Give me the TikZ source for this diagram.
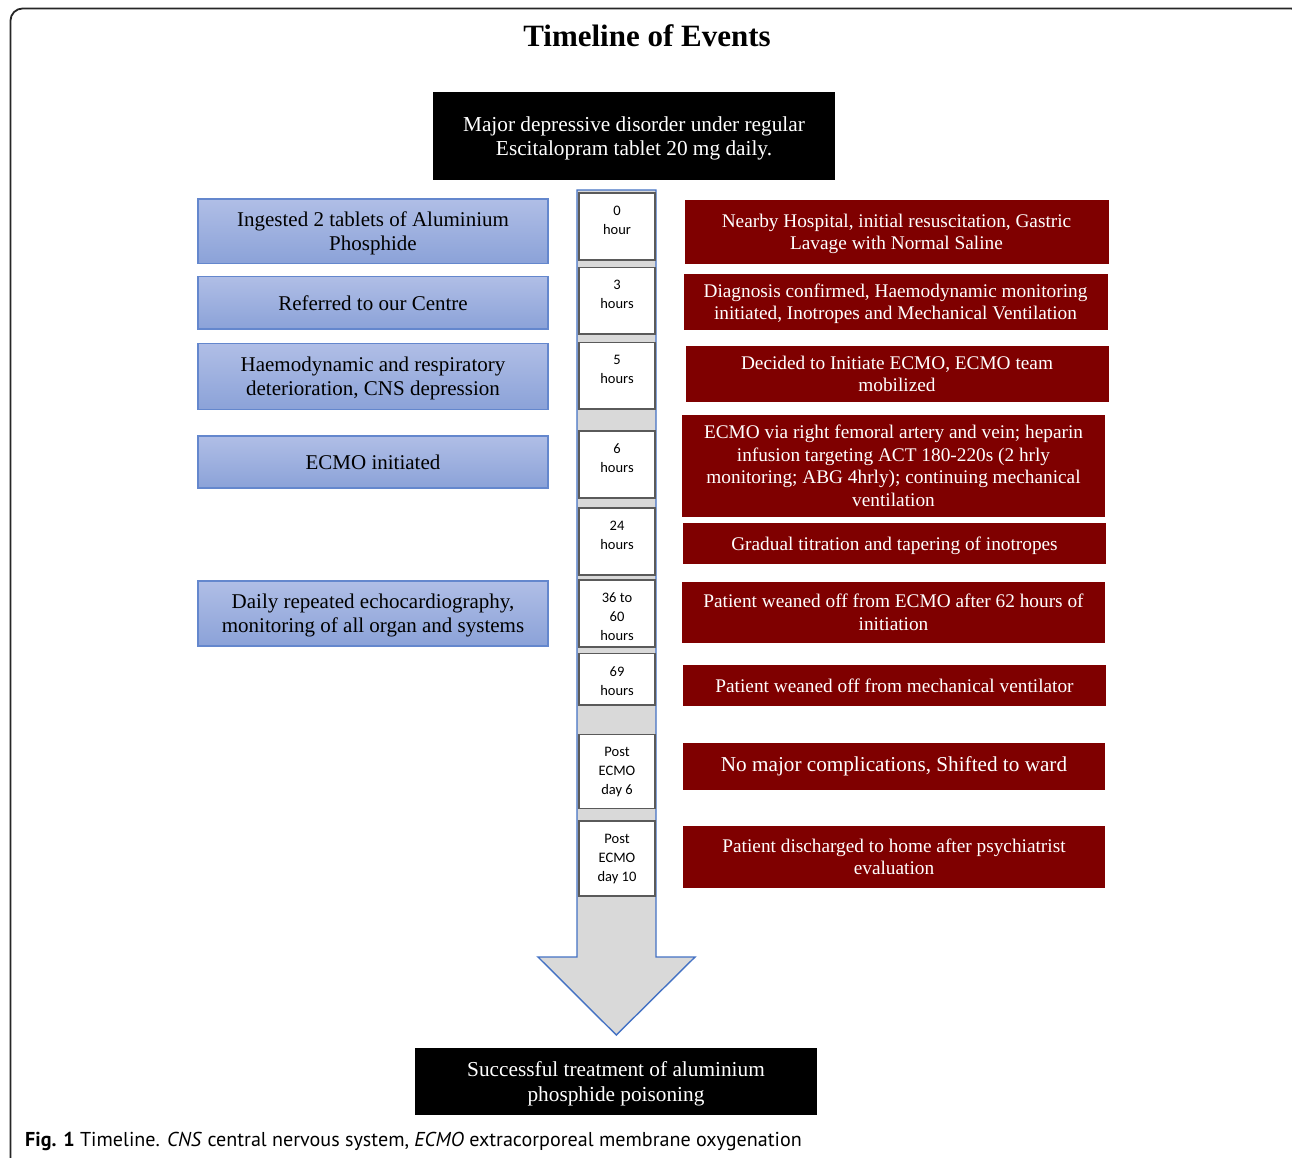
\documentclass[tikz,border=0pt]{standalone}
\usepackage{fontspec}
\setmainfont{Liberation Serif}
\newfontfamily\hourfont{Carlito}
\newfontfamily\capfont{PT Sans}
\definecolor{boxred}{RGB}{127,0,0}
\definecolor{bluetop}{RGB}{176,190,230}
\definecolor{bluebot}{RGB}{139,162,216}
\definecolor{blueedge}{RGB}{100,135,205}
\definecolor{arrowfill}{RGB}{217,217,217}
\definecolor{arrowedge}{RGB}{68,114,196}
\definecolor{houredge}{RGB}{90,90,90}
\begin{document}
\begin{tikzpicture}[x=1pt,y=-1pt,
  bluebox/.style={draw=blueedge, line width=1.2pt, top color=bluetop, bottom color=bluebot,
    inner sep=0pt, minimum width=350pt, align=center, text=black, text depth=0pt,
    font=\fontsize{21}{24}\selectfont},
  redbox/.style={fill=boxred, inner sep=0pt, align=center, text=white, text depth=0pt,
    font=\fontsize{19.3}{22.5}\selectfont},
  blackbox/.style={fill=black, inner sep=0pt, align=center, text=white, text depth=0pt,
    font=\fontsize{21.3}{24.5}\selectfont},
  hourbox/.style={draw=houredge, fill=white, line width=1.5pt, inner sep=0pt,
    minimum width=76pt},
  hourtext/.style={inner sep=0pt, anchor=north, yshift=-13.5pt, align=center,
    font=\hourfont\fontsize{14.5}{19}\selectfont}
]
\clip (0,0) rectangle (1292,1157);
\fill[white] (0,0) rectangle (1292,1157);
% outer frame
\draw[line width=1.8pt, black!85, rounded corners=12pt] (10.5,8.5) rectangle (1303,1170);

% title
\node[font=\bfseries\fontsize{31}{35}\selectfont, inner sep=0pt] (title) at (647,36) {Timeline of Events};

% top and bottom black boxes
\node[blackbox, minimum width=402pt, minimum height=88pt] (start) at (634,136)
  {Major depressive disorder under regular\\Escitalopram tablet 20 mg daily.};
\node[blackbox, minimum width=402pt, minimum height=67pt] (finish) at (616,1081.5)
  {Successful treatment of aluminium\\phosphide poisoning};

% big arrow
\draw[fill=arrowfill, draw=arrowedge, line width=1.4pt, line join=miter]
  (577,190) -- (656,190) -- (656,957) -- (695,957) -- (616.3,1035)
  -- (538,957) -- (577,957) -- cycle;

% hour boxes
\node[hourbox, minimum height=67.3pt] (h1) at (617,226.4) {};
\node[hourbox, minimum height=66.7pt] (h2) at (617,300.7) {};
\node[hourbox, minimum height=66.7pt] (h3) at (617,375.7) {};
\node[hourbox, minimum height=67.3pt] (h4) at (617,464.4) {};
\node[hourbox, minimum height=67pt] (h5) at (617,541.5) {};
\node[hourbox, minimum height=66.7pt] (h6) at (617,613.4) {};
\node[hourbox, minimum height=51.7pt] (h7) at (617,679.2) {};
\node[hourbox, minimum height=74pt] (h8) at (617,771.3) {};
\node[hourbox, minimum height=75.3pt] (h9) at (617,858.4) {};
\node[hourtext] (t1) at (h1.north) {0\\hour};
\node[hourtext] (t2) at (h2.north) {3\\hours};
\node[hourtext] (t3) at (h3.north) {5\\hours};
\node[hourtext] (t4) at (h4.north) {6\\hours};
\node[hourtext] (t5) at (h5.north) {24\\hours};
\node[hourtext] (t6) at (h6.north) {36 to\\60\\hours};
\node[hourtext] (t7) at (h7.north) {69\\hours};
\node[hourtext] (t8) at (h8.north) {Post\\ECMO\\day 6};
\node[hourtext] (t9) at (h9.north) {Post\\ECMO\\day 10};

% left blue boxes
\node[bluebox, minimum height=64.3pt] (b1) at (373,231.2) {Ingested 2 tablets of Aluminium\\Phosphide};
\node[bluebox, minimum height=52.7pt] (b2) at (373,302.7) {Referred to our Centre};
\node[bluebox, minimum height=66pt] (b3) at (373,376.7) {Haemodynamic and respiratory\\deterioration, CNS depression};
\node[bluebox, minimum height=52pt] (b4) at (373,462) {ECMO initiated};
\node[bluebox, minimum height=65pt] (b5) at (373,613.5) {Daily repeated echocardiography,\\monitoring of all organ and systems};

% right red boxes
\node[redbox, minimum width=424pt, minimum height=63.7pt] (r1) at (896.5,231.9)
  {Nearby Hospital, initial resuscitation, Gastric\\Lavage with Normal Saline};
\node[redbox, minimum width=424pt, minimum height=55.7pt] (r2) at (895.5,301.9)
  {Diagnosis confirmed, Haemodynamic monitoring\\initiated, Inotropes and Mechanical Ventilation};
\node[redbox, minimum width=423pt, minimum height=55.7pt] (r3) at (897,373.9)
  {Decided to Initiate ECMO, ECMO team\\mobilized};
\node[redbox, minimum width=423.5pt, minimum height=101.7pt] (r4) at (893.5,465.9)
  {ECMO via right femoral artery and vein; heparin\\infusion targeting ACT 180-220s (2 hrly\\monitoring; ABG 4hrly); continuing mechanical\\ventilation};
\node[redbox, minimum width=423.5pt, minimum height=40.7pt] (r5) at (894.5,543.4)
  {Gradual titration and tapering of inotropes};
\node[redbox, minimum width=423.5pt, minimum height=60.7pt] (r6) at (893.5,612.4)
  {Patient weaned off from ECMO after 62 hours of\\initiation};
\node[redbox, minimum width=423.5pt, minimum height=40.7pt] (r7) at (894.5,685.4)
  {Patient weaned off from mechanical ventilator};
\node[redbox, minimum width=422.5pt, minimum height=46.4pt, text depth=4pt, font=\fontsize{21.2}{24}\selectfont] (r8) at (894,766.5)
  {No major complications, Shifted to ward};
\node[redbox, minimum width=422.5pt, minimum height=61.7pt] (r9) at (894,856.9)
  {Patient discharged to home after psychiatrist\\evaluation};

% caption
\node[anchor=base west, inner sep=0pt, font=\capfont\fontsize{20.1}{23}\selectfont] (cap) at (25,1146)
  {\textbf{Fig. 1} Timeline. \textit{CNS} central nervous system, \textit{ECMO} extracorporeal membrane oxygenation};
\end{tikzpicture}
\end{document}
